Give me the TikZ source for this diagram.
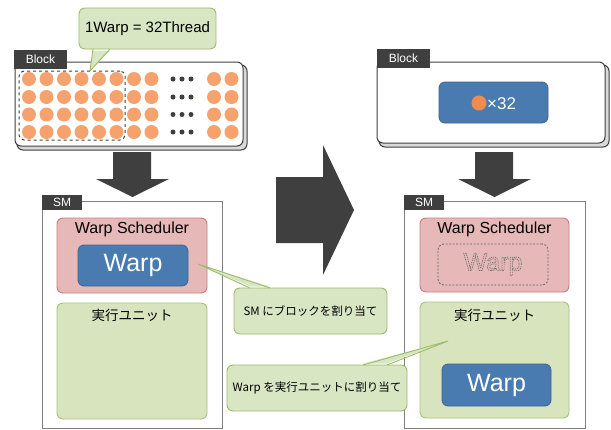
\documentclass[tikz,border=0pt]{standalone}
\usepackage{fontspec}
\setmainfont{Liberation Sans}
\newfontfamily\jpfont{Noto Sans CJK JP}

\definecolor{dark}{HTML}{3F3F3F}
\definecolor{edgegray}{HTML}{7F7F7F}
\definecolor{shadowgray}{HTML}{D9D9D9}
\definecolor{thread}{HTML}{F5A26E}
\definecolor{threadone}{HTML}{EE8B4F}
\definecolor{warpblue}{HTML}{4A7BB0}
\definecolor{warpedge}{HTML}{41648F}
\definecolor{schedfill}{HTML}{E6B9B8}
\definecolor{schededge}{HTML}{D47A7A}
\definecolor{unitfill}{HTML}{D7E4BD}
\definecolor{unitedge}{HTML}{A9C382}
\definecolor{notefill}{HTML}{D9E6C4}
\definecolor{noteedge}{HTML}{9DBB6A}

% outlined, dashed glyphs for the empty warp slot
\newcommand{\ghosttext}[1]{\special{pdf:literal direct 1 Tr 0.7 w [1.3 0.9] 0 d 0.45 G}#1\special{pdf:literal direct 0 Tr [] 0 d}}

\begin{document}
\begin{tikzpicture}[x=1pt,y=-1pt,
  box/.style={anchor=north west,inner sep=0pt,outer sep=0pt},
  blockback/.style={box,draw=dark,line width=1pt,fill=shadowgray,rounded corners=6pt},
  blockfront/.style={box,draw=dark,line width=1pt,fill=white,rounded corners=6pt},
  tabbox/.style={box,fill=dark,text=white,font=\fontsize{12}{14}\selectfont},
  smbox/.style={box,draw=edgegray,line width=0.9pt,fill=white},
  schedbox/.style={box,draw=schededge,line width=0.9pt,fill=schedfill,rounded corners=6pt},
  unitbox/.style={box,draw=unitedge,line width=0.9pt,fill=unitfill,rounded corners=6pt},
  warpbox/.style={box,draw=warpedge,line width=0.8pt,fill=warpblue,rounded corners=6pt},
  warplabel/.style={text=white,font=\fontsize{25}{28}\selectfont},
  titlelabel/.style={font=\fontsize{16}{18}\selectfont,text=black},
  unitlabel/.style={font=\jpfont\fontsize{13.5}{16}\selectfont,text=black},
  notebox/.style={box,draw=noteedge,line width=0.9pt,fill=notefill,rounded corners=6pt},
  notetext/.style={font=\jpfont\fontsize{11.5}{14}\selectfont,text=black},
  threaddot/.style={circle,fill=thread,inner sep=0pt,minimum size=14pt},
  smalldot/.style={circle,fill=dark,inner sep=0pt,minimum size=5pt},
  bigarrow/.style={fill=dark,draw=none}
]
\useasboundingbox (0,0) rectangle (611,429);

% ---------------- left block with all threads ----------------
\node[blockback,minimum width=230pt,minimum height=85pt] (blkLback) at (17,65) {};
\node[blockfront,minimum width=228pt,minimum height=84pt] (blkL) at (15,62) {};
\node[tabbox,minimum width=53pt,minimum height=19pt] (blkLtab) at (14,50) {Block};

\foreach \cx [count=\i] in {29,46.5,64,81.5,99,116.5,134,151.5,214,231.5}
  \foreach \cy [count=\j] in {79,97,114.5,132}
    \node[threaddot] (t\i-\j) at (\cx,\cy) {};
\foreach \cy [count=\j] in {79,97,114.5,132}
  \foreach \cx [count=\k] in {173,182,191}
    \node[smalldot] (d\k-\j) at (\cx,\cy) {};

\node[box,draw=dark,dashed,line width=1pt,rounded corners=5pt,
      minimum width=106pt,minimum height=69pt] (warpgroup) at (19,71) {};

% callout: 1 warp = 32 threads
\node[notebox,minimum width=137pt,minimum height=41pt] (noteA) at (79,8) {};
\node[font=\fontsize{15}{17}\selectfont] (noteAtext) at (noteA.center) {1Warp = 32Thread};
\coordinate (noteAtip) at (90,71);
\coordinate (noteAb1) at (93,49);
\coordinate (noteAb2) at (110,49);
\fill[notefill] ([yshift=-1.5pt]noteAb1) -- (noteAtip) -- ([yshift=-1.5pt]noteAb2) -- cycle;
\draw[noteedge,line width=0.9pt,line join=round] (noteAb1) -- (noteAtip) -- (noteAb2);

% ---------------- right block: one warp of 32 ----------------
\node[blockback,minimum width=230pt,minimum height=82pt] (blkRback) at (379,65) {};
\node[blockfront,minimum width=228pt,minimum height=81pt] (blkR) at (377,62) {};
\node[tabbox,minimum width=53pt,minimum height=19pt] (blkRtab) at (377,49) {Block};
\node[warpbox,minimum width=109pt,minimum height=41pt] (warpR) at (439,82) {};
\node[circle,fill=threadone,inner sep=0pt,minimum size=15pt] (oneThread) at (479,103) {};
\node[anchor=west,inner sep=0pt,text=white,font=\fontsize{17}{19}\selectfont] (times32) at (487,103.5) {×32};

% ---------------- arrows ----------------
\fill[bigarrow] (113,152) -- (151,152) -- (151,179) -- (169,179) -- (132.5,197)
  -- (96,179) -- (113,179) -- cycle;
\fill[bigarrow] (475,152) -- (513,152) -- (513,179) -- (531,179) -- (494.5,197)
  -- (458,179) -- (475,179) -- cycle;
\fill[bigarrow] (276,177) -- (323,177) -- (323,145) -- (354,210) -- (323,275)
  -- (323,243) -- (276,243) -- cycle;

% ---------------- left SM ----------------
\node[smbox,minimum width=180pt,minimum height=227pt] (smL) at (42,201) {};
\node[tabbox,minimum width=40pt,minimum height=15pt] (smLtab) at (42,195) {SM};
\node[schedbox,minimum width=150pt,minimum height=75pt] (schedL) at (57,218) {};
\node[titlelabel] (schedLtext) at (132,229.5) {Warp Scheduler};
\node[warpbox,minimum width=110pt,minimum height=41pt] (warpL) at (78,245) {};
\node[warplabel] (warpLtext) at (warpL.center) {Warp};
\node[unitbox,minimum width=150pt,minimum height=116pt] (unitL) at (57,303) {};
\node[unitlabel] (unitLtext) at (132,315) {実行ユニット};

% ---------------- right SM ----------------
\node[smbox,minimum width=181pt,minimum height=227pt] (smR) at (404,201) {};
\node[tabbox,minimum width=40pt,minimum height=15pt] (smRtab) at (404,195) {SM};
\node[schedbox,minimum width=149pt,minimum height=74pt] (schedR) at (420,218) {};
\node[titlelabel] (schedRtext) at (494.5,229) {Warp Scheduler};
\node[box,draw=edgegray!80!black,dashed,line width=0.8pt,dash pattern=on 2pt off 1.5pt,
      rounded corners=6pt,minimum width=110pt,minimum height=41pt] (ghostR) at (438,244) {};
\node[text=schedfill,font=\fontsize{25}{28}\selectfont] (ghostRtext) at (ghostR.center) {\ghosttext{Warp}};
\node[unitbox,minimum width=149pt,minimum height=116pt] (unitR) at (420,302) {};
\node[unitlabel] (unitRtext) at (494.5,315) {実行ユニット};
\node[warpbox,minimum width=109pt,minimum height=42pt] (warpR2) at (442,364) {};
\node[warplabel] (warpR2text) at (warpR2.center) {Warp};

% callout: block assigned to SM
\node[notebox,minimum width=153pt,minimum height=46pt] (noteB) at (234,288) {};
\node[notetext] (noteBtext) at (noteB.center) {SM にブロックを割り当て};
\coordinate (noteBtip) at (198,264);
\coordinate (noteBb1) at (250,288);
\coordinate (noteBb2) at (270,288);
\fill[notefill] ([yshift=1.5pt]noteBb1) -- (noteBtip) -- ([yshift=1.5pt]noteBb2) -- cycle;
\draw[noteedge,line width=0.9pt,line join=round] (noteBb1) -- (noteBtip) -- (noteBb2);

% callout: warp assigned to execution unit
\node[notebox,minimum width=180pt,minimum height=46pt] (noteC) at (227,365) {};
\node[notetext] (noteCtext) at (noteC.center) {Warp を実行ユニットに割り当て};
\coordinate (noteCtip) at (448,341);
\coordinate (noteCb1) at (363,365);
\coordinate (noteCb2) at (387,365);
\fill[notefill] ([yshift=1.5pt]noteCb1) -- (noteCtip) -- ([yshift=1.5pt]noteCb2) -- cycle;
\draw[noteedge,line width=0.9pt,line join=round] (noteCb1) -- (noteCtip) -- (noteCb2);
\end{tikzpicture}
\end{document}
